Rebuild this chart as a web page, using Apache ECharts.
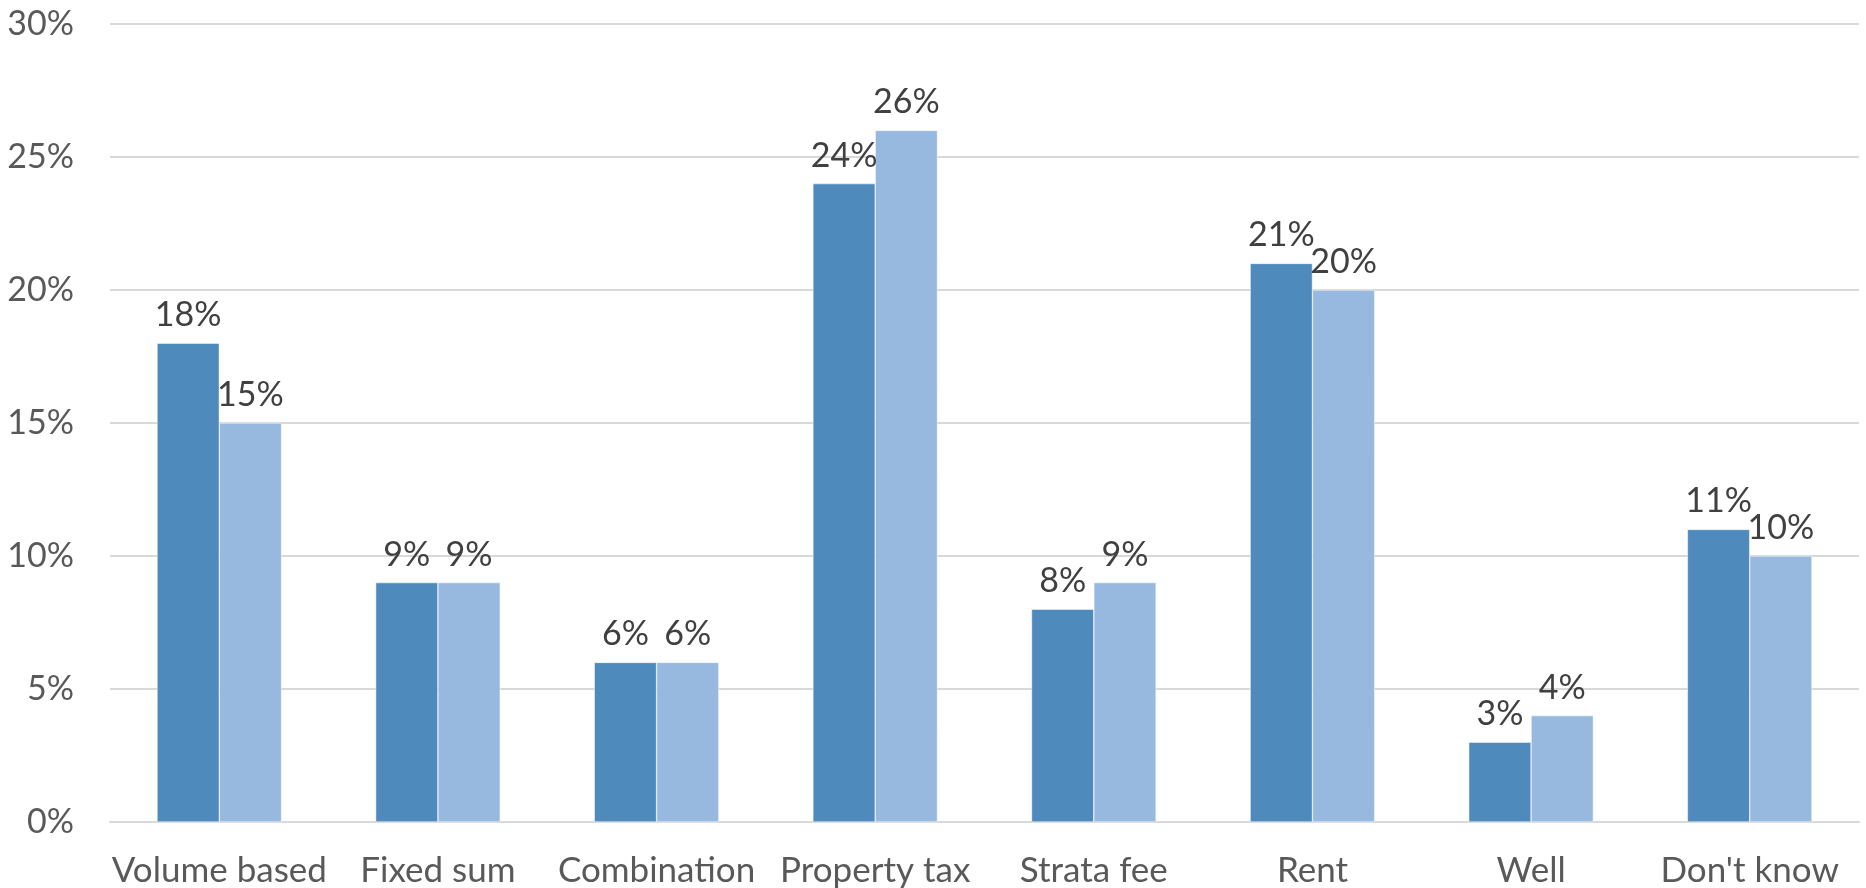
<!DOCTYPE html>
<html>
<head>
<meta charset="utf-8">
<script src="https://cdn.jsdelivr.net/npm/echarts@6/dist/echarts.min.js"></script>
<style>
  html, body { margin: 0; padding: 0; background: #fff; }
  #main { width: 1866px; height: 888px; }
</style>
</head>
<body>
<div id="main"></div>
<script>
// categories and values (percent)
var categories = ['Volume based', 'Fixed sum', 'Combination', 'Property tax',
                  'Strata fee', 'Rent', 'Well', "Don't know"];
var seriesA = [18, 9, 6, 24, 8, 21, 3, 11];
var seriesB = [15, 9, 6, 26, 9, 20, 4, 10];
var yTicks = [0, 5, 10, 15, 20, 25, 30];

var fontName = 'Lato';

var myChart = echarts.init(document.getElementById('main'));

function barLabel() {
    return {
        show: true,
        position: 'top',
        distance: 11,
        color: '#404040',
        fontFamily: fontName,
        fontSize: 34,
        formatter: '{c}%'
    };
}

var option = {
    backgroundColor: '#ffffff',
    animation: false,
    grid: {
        left: 110,
        right: 7,
        top: 24,
        bottom: 62
    },
    xAxis: {
        type: 'category',
        data: categories,
        axisTick: { show: false },
        axisLine: { lineStyle: { color: '#d9d9d9', width: 2 } },
        axisLabel: {
            interval: 0,
            color: '#595959',
            fontFamily: fontName,
            fontSize: 35,
            margin: 31
        }
    },
    yAxis: {
        type: 'value',
        min: yTicks[0],
        max: yTicks[yTicks.length - 1],
        interval: 5,
        axisLine: { show: false },
        axisTick: { show: false },
        splitLine: { lineStyle: { color: '#d9d9d9', width: 2 } },
        axisLabel: {
            color: '#595959',
            fontFamily: fontName,
            fontSize: 34,
            margin: 36,
            formatter: '{value}%'
        }
    },
    series: [
        {
            name: 'Series 1',
            type: 'bar',
            data: seriesA,
            barGap: '0%',
            barCategoryGap: '43%',
            itemStyle: { color: '#4f8abd', borderColor: '#ffffff', borderWidth: 0.5 },
            label: barLabel()
        },
        {
            name: 'Series 2',
            type: 'bar',
            data: seriesB,
            barGap: '0%',
            barCategoryGap: '43%',
            itemStyle: { color: '#98b9df', borderColor: '#ffffff', borderWidth: 0.5 },
            label: barLabel()
        }
    ]
};
myChart.setOption(option);
</script>
</body>
</html>
